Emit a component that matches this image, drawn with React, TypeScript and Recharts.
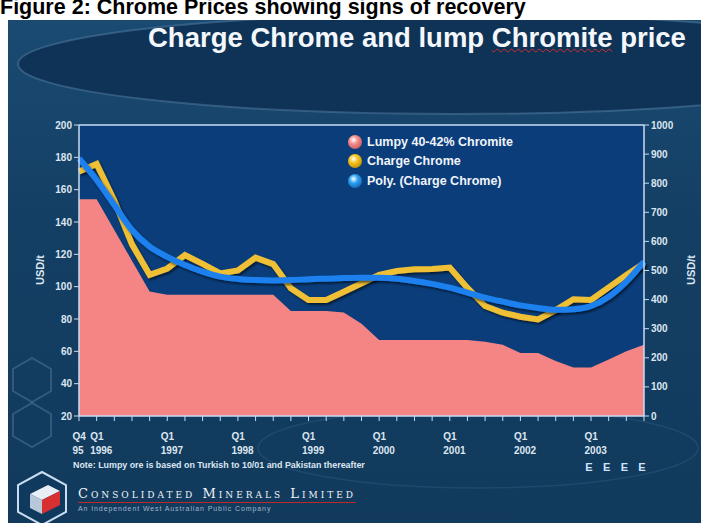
import React from "react";
import {
  ComposedChart,
  Area,
  Line,
  XAxis,
  YAxis,
  CartesianGrid,
  ReferenceLine,
} from "recharts";

// quarterly categories, Q4 1995 .. Q4 2003
const quarters = [
  "Q4 1995",
  "Q1 1996", "Q2 1996", "Q3 1996", "Q4 1996",
  "Q1 1997", "Q2 1997", "Q3 1997", "Q4 1997",
  "Q1 1998", "Q2 1998", "Q3 1998", "Q4 1998",
  "Q1 1999", "Q2 1999", "Q3 1999", "Q4 1999",
  "Q1 2000", "Q2 2000", "Q3 2000", "Q4 2000",
  "Q1 2001", "Q2 2001", "Q3 2001", "Q4 2001",
  "Q1 2002", "Q2 2002", "Q3 2002", "Q4 2002",
  "Q1 2003", "Q2 2003", "Q3 2003", "Q4 2003",
];

// Lumpy 40-42% Chromite, USD/t (left axis)
const lumpy = [
  154, 154, 135, 116, 97, 95, 95, 95, 95, 95, 95, 95, 85, 85, 85, 84, 77,
  67, 67, 67, 67, 67, 67, 66, 64, 59, 59, 54, 50, 50, 55, 60, 64,
];

// Charge Chrome, USD/t (right axis)
const chargeChrome = [
  840, 866, 740, 590, 485, 507, 553, 523, 490, 500, 544, 522, 439, 399, 399,
  427, 456, 485, 498, 504, 505, 510, 440, 378, 355, 341, 332, 364, 401, 399,
  442, 485, 525,
];

// Poly. (Charge Chrome) trend
const polyTrend = [
  885, 811, 725, 639, 582, 547, 519, 496, 479, 471, 467, 466, 467, 470, 472,
  474, 475, 475, 472, 464, 454, 441, 424, 407, 393, 380, 371, 365, 367, 378,
  410, 462, 530,
];

// two-line tick labels: [top, bottom]
const tickLabels: Record<string, [string, string]> = {
  "Q4 1995": ["Q4", "95"],
  "Q1 1996": ["Q1", "1996"],
  "Q1 1997": ["Q1", "1997"],
  "Q1 1998": ["Q1", "1998"],
  "Q1 1999": ["Q1", "1999"],
  "Q1 2000": ["Q1", "2000"],
  "Q1 2001": ["Q1", "2001"],
  "Q1 2002": ["Q1", "2002"],
  "Q1 2003": ["Q1", "2003"],
};
const estimateQuarters = ["Q1 2003", "Q2 2003", "Q3 2003", "Q4 2003"];

const leftTicks = [20, 40, 60, 80, 100, 120, 140, 160, 180, 200];
const rightTicks = [0, 100, 200, 300, 400, 500, 600, 700, 800, 900, 1000];

const data = quarters.map((q, i) => ({
  q,
  lumpy: lumpy[i],
  charge: chargeChrome[i],
  poly: polyTrend[i],
}));

const FONT = "'Liberation Sans', Arial, sans-serif";
const AXIS = "#c9dcf2";
const LABEL = "#dde6f0";

function QuarterTick(props: any) {
  const { x, y, payload } = props;
  const lab = tickLabels[payload.value];
  const est = estimateQuarters.includes(payload.value);
  return (
    <g fontFamily={FONT} fontWeight="bold" fontSize={10} fill={LABEL}>
      {lab && (
        <>
          <text x={x - 6.5} y={y + 17}>{lab[0]}</text>
          <text x={x - 6.5} y={y + 31}>{lab[1]}</text>
        </>
      )}
      {est && (
        <text x={x - 2} y={y + 48} textAnchor="middle" fill="#cfe4ff" fontSize={11}>
          E
        </text>
      )}
    </g>
  );
}

function Sphere({ color, dark }: { color: string; dark: string }) {
  return (
    <div
      style={{
        width: 14,
        height: 14,
        borderRadius: 7,
        flex: "none",
        background: `radial-gradient(circle at 40% 35%, #ffffff 0%, ${color} 35%, ${dark} 100%)`,
      }}
    />
  );
}

function Hex({ x, y, r }: { x: number; y: number; r: number }) {
  const pts = [0, 1, 2, 3, 4, 5]
    .map((k) => {
      const a = (Math.PI / 3) * k + Math.PI / 6;
      return `${x + r * Math.cos(a)},${y + r * Math.sin(a)}`;
    })
    .join(" ");
  return <polygon points={pts} fill="none" stroke="#6d92b4" strokeOpacity={0.35} strokeWidth={2} />;
}

export default function App() {
  const legend = [
    { name: "Lumpy 40-42% Chromite", color: "#f48a8a", dark: "#b04848" },
    { name: "Charge Chrome", color: "#f5c21a", dark: "#a87800" },
    { name: "Poly. (Charge Chrome)", color: "#2aa0f0", dark: "#0a4c9a" },
  ];
  return (
    <div
      style={{
        position: "absolute",
        left: 0,
        top: 0,
        width: 701,
        height: 523,
        background: "#ffffff",
        overflow: "hidden",
        fontFamily: FONT,
      }}
    >
      {/* page caption, partly hidden at the top in the source */}
      <div
        style={{
          position: "absolute",
          left: 0,
          top: -5,
          fontSize: 21.5,
          lineHeight: "24px",
          fontWeight: "bold",
          color: "#000",
          whiteSpace: "nowrap",
        }}
      >
        Figure 2: Chrome Prices showing signs of recovery
      </div>

      {/* slide */}
      <div
        style={{
          position: "absolute",
          left: 8,
          top: 20,
          width: 693,
          height: 503,
          background: "linear-gradient(180deg, #1a4a72 0%, #143f64 40%, #113a5c 100%)",
        }}
      >
        <svg width={693} height={503} style={{ position: "absolute", left: 0, top: 0 }}>
          <ellipse cx={445} cy={44} rx={435} ry={50} fill="#0e3356" stroke="#5d86aa" strokeOpacity={0.45} strokeWidth={2} />
          <ellipse cx={470} cy={428} rx={220} ry={40} fill="none" stroke="#3e6a90" strokeOpacity={0.3} strokeWidth={1.5} />
          <Hex x={24} y={360} r={22} />
          <Hex x={24} y={405} r={22} />
          {/* logo cube */}
          <g transform="translate(34,478)">
            <polygon points="0,-26 24,-13 24,14 0,27 -24,14 -24,-13" fill="#0f3a5e" stroke="#c9dcf2" strokeWidth={2} />
            <polygon points="-12,-4 6,-13 18,-7 0,2" fill="#e8eef5" />
            <polygon points="-12,-4 0,2 0,16 -12,10" fill="#b8c8da" />
            <polygon points="0,2 18,-7 18,7 0,16" fill="#d83030" />
          </g>
        </svg>
      </div>

      {/* slide title */}
      <div
        style={{
          position: "absolute",
          left: 148,
          top: 22,
          fontSize: 27.5,
          fontWeight: "bold",
          color: "#f4f8fc",
          whiteSpace: "nowrap",
        }}
      >
        Charge Chrome and lump{" "}
        <span style={{ textDecoration: "underline wavy #d03030", textDecorationThickness: 1 }}>
          Chromite
        </span>{" "}
        price
      </div>

      <div style={{ position: "absolute", left: 0, top: 0 }}>
        <ComposedChart
          width={701}
          height={523}
          data={data}
          margin={{ top: 125, right: 0, bottom: 0, left: 0 }}
        >
          <defs>
            <filter id="lineShadow" x="-5%" y="-20%" width="110%" height="140%">
              <feDropShadow dx={1.5} dy={2} stdDeviation={1} floodColor="#000" floodOpacity={0.55} />
            </filter>
          </defs>
          <CartesianGrid horizontal={false} vertical={false} fill="#0a3d7a" />
          <XAxis
            dataKey="q"
            interval={0}
            height={107}
            tick={<QuarterTick />}
            tickSize={5}
            axisLine={{ stroke: AXIS, strokeWidth: 1.5 }}
            tickLine={{ stroke: AXIS }}
          />
          <YAxis
            yAxisId="left"
            domain={[20, 200]}
            ticks={leftTicks}
            width={79}
            tickSize={5}
            axisLine={{ stroke: AXIS, strokeWidth: 1.5 }}
            tickLine={{ stroke: AXIS }}
            tick={{ fill: LABEL, fontSize: 10, fontWeight: "bold", fontFamily: FONT }}
          />
          <YAxis
            yAxisId="right"
            orientation="right"
            domain={[0, 1000]}
            ticks={rightTicks}
            width={57}
            tickSize={5}
            axisLine={{ stroke: AXIS, strokeWidth: 1.5 }}
            tickLine={{ stroke: AXIS }}
            tick={{ fill: LABEL, fontSize: 10, fontWeight: "bold", fontFamily: FONT }}
          />
          <ReferenceLine yAxisId="left" y={200} stroke={AXIS} strokeWidth={1.5} />
          <Area
            yAxisId="left"
            dataKey="lumpy"
            type="linear"
            fill="#f58585"
            fillOpacity={1}
            stroke="none"
            isAnimationActive={false}
          />
          <Line
            yAxisId="right"
            dataKey="charge"
            type="linear"
            stroke="#efbf34"
            strokeWidth={6}
            dot={false}
            filter="url(#lineShadow)"
            isAnimationActive={false}
          />
          <Line
            yAxisId="right"
            dataKey="poly"
            type="monotone"
            stroke="#1c80ee"
            strokeWidth={6}
            dot={false}
            filter="url(#lineShadow)"
            isAnimationActive={false}
          />
        </ComposedChart>
      </div>

      {/* axis titles */}
      <div
        style={{
          position: "absolute",
          left: 40,
          top: 270,
          transform: "translate(-50%, -50%) rotate(-90deg)",
          color: LABEL,
          fontSize: 11,
          fontWeight: "bold",
        }}
      >
        USD/t
      </div>
      <div
        style={{
          position: "absolute",
          left: 691,
          top: 270,
          transform: "translate(-50%, -50%) rotate(-90deg)",
          color: LABEL,
          fontSize: 11,
          fontWeight: "bold",
        }}
      >
        USD/t
      </div>

      {/* legend */}
      <div style={{ position: "absolute", left: 348, top: 132 }}>
        {legend.map((l) => (
          <div key={l.name} style={{ display: "flex", alignItems: "center", height: 19.5 }}>
            <Sphere color={l.color} dark={l.dark} />
            <span
              style={{
                marginLeft: 5,
                color: "#f0f4fa",
                fontSize: 12.5,
                fontWeight: "bold",
                whiteSpace: "nowrap",
              }}
            >
              {l.name}
            </span>
          </div>
        ))}
      </div>

      {/* footnote */}
      <div
        style={{
          position: "absolute",
          left: 73,
          top: 460,
          color: LABEL,
          fontSize: 8.9,
          fontWeight: "bold",
          whiteSpace: "nowrap",
        }}
      >
        Note: Lumpy ore is based on Turkish to 10/01 and Pakistan thereafter
      </div>

      {/* company logo text */}
      <div style={{ position: "absolute", left: 78, top: 486, whiteSpace: "nowrap" }}>
        <div
          style={{
            fontFamily: "'DejaVu Serif', 'Liberation Serif', serif",
            color: "#f0f4fa",
            fontSize: 13,
            letterSpacing: 3,
            fontVariant: "small-caps",
            borderBottom: "1.5px solid #c02828",
            paddingBottom: 1,
            width: 278,
          }}
        >
          Consolidated Minerals Limited
        </div>
        <div style={{ color: "#9fb6cc", fontSize: 7, letterSpacing: 0.9, marginTop: 2 }}>
          An Independent West Australian Public Company
        </div>
      </div>
    </div>
  );
}
